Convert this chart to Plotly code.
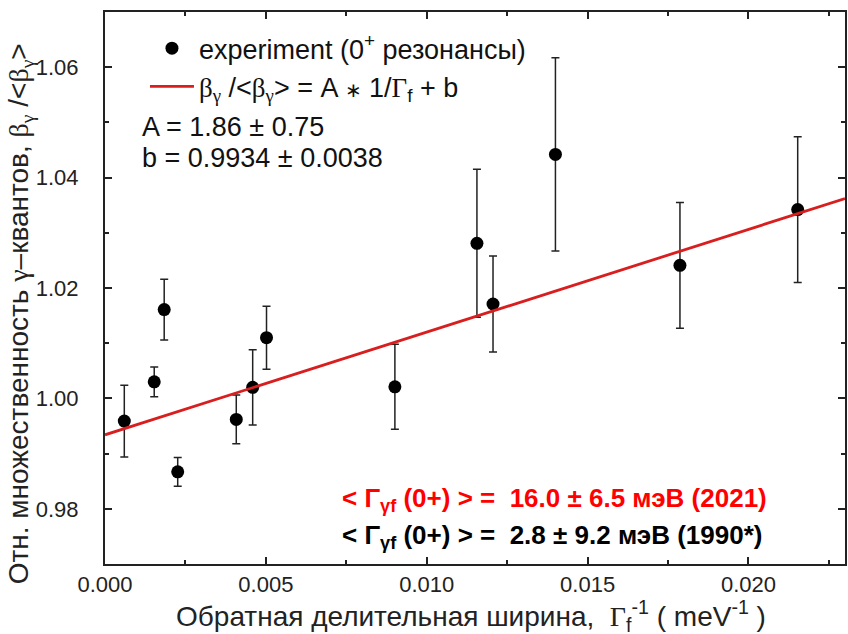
import plotly.graph_objects as go

# обратная делительная ширина, 1/Gamma_f (meV^-1)
inv_width = [0.0006, 0.00153, 0.00184, 0.00226, 0.00408, 0.00459, 0.00502,
             0.00901, 0.01156, 0.01206, 0.01400, 0.01787, 0.02153]
# относительная множественность beta_gamma / <beta_gamma>
rel_mult = [0.9959, 1.0030, 1.0161, 0.9867, 0.9962, 1.0020, 1.0110,
            1.0021, 1.0281, 1.0171, 1.0442, 1.0241, 1.0342]
rel_err = [0.0065, 0.0027, 0.0055, 0.0026, 0.0044, 0.0068, 0.0057,
           0.0077, 0.0134, 0.0087, 0.0175, 0.0114, 0.0132]

# линейный фит A * 1/Gamma_f + b
fit_x = [0.0, 0.023]
fit_y = [0.9934, 1.0362]

x_ticks = [0.0, 0.005, 0.010, 0.015, 0.020]
x_ticklabels = ["0.000", "0.005", "0.010", "0.015", "0.020"]
y_ticks = [0.98, 1.00, 1.02, 1.04, 1.06]
y_ticklabels = ["0.98", "1.00", "1.02", "1.04", "1.06"]

SANS = "Liberation Sans, Arial, sans-serif"
SERIF = "font-family:'Liberation Serif', 'DejaVu Serif', serif"


def serif(s):
    return "<span style=\"" + SERIF + "\">" + s + "</span>"


fig = go.Figure()
fig.add_trace(go.Scatter(
    x=inv_width, y=rel_mult,
    mode="markers",
    marker=dict(color="black", size=13, symbol="circle"),
    error_y=dict(type="data", array=rel_err, visible=True,
                 color="#222222", thickness=1.5, width=4),
    name="experiment (0<sup>+</sup> резонансы)",
))
fig.add_trace(go.Scatter(
    x=fit_x, y=fit_y,
    mode="lines",
    line=dict(color="#d81e1e", width=2.8),
    name=serif("β") + "<sub>" + serif("γ") + "</sub> /&lt;" + serif("β")
         + "<sub>" + serif("γ") + "</sub>&gt; = A <span style=\"font-size:20px\">∗</span> 1/"
         + serif("Γ") + "<sub>f</sub> + b",
))

axis_common = dict(
    showline=True, linecolor="#222222", linewidth=2, mirror="allticks",
    ticks="inside", ticklen=7, tickwidth=1.5, tickcolor="#222222",
    showgrid=False, zeroline=False,
    tickfont=dict(family=SANS, size=22, color="#222222"),
    minor=dict(ticks="inside", ticklen=4, tickwidth=1.5, tickcolor="#222222"),
)

fig.update_xaxes(
    range=[0, 0.023], tickvals=x_ticks, ticktext=x_ticklabels,
    minor_dtick=0.0025, minor_tick0=0,
    **axis_common,
)
fig.update_yaxes(
    range=[0.97, 1.07], tickvals=y_ticks, ticktext=y_ticklabels,
    minor_dtick=0.01, minor_tick0=0.97, ticklabelstandoff=20,
    **axis_common,
)

# подписи осей — аннотациями, чтобы точно поставить их как в оригинале
fig.add_annotation(x=0.4946, y=-0.094, xref="paper", yref="paper",
                   xanchor="center", yanchor="middle", showarrow=False,
                   text="Обратная делительная ширина,  " + serif("Γ")
                        + "<sub>f</sub><sup>-1</sup> ( meV<sup>-1</sup> )",
                   font=dict(family=SANS, size=28, color="#222222"))
fig.add_annotation(x=-0.113, y=0.453, xref="paper", yref="paper",
                   xanchor="center", yanchor="middle", showarrow=False, textangle=-90,
                   text="Отн. множественность " + serif("γ") + "–квантов, " + serif("β")
                        + "<sub>" + serif("γ") + "</sub> /&lt;" + serif("β") + "<sub>"
                        + serif("γ") + "</sub>&gt;",
                   font=dict(family=SANS, size=28, color="#222222"))

fig.add_annotation(x=0.047, y=0.792, xref="paper", yref="paper",
                   xanchor="left", yanchor="middle", showarrow=False,
                   text="A = 1.86 ± 0.75",
                   font=dict(family=SANS, size=27, color="#111111"))
fig.add_annotation(x=0.047, y=0.735, xref="paper", yref="paper",
                   xanchor="left", yanchor="middle", showarrow=False,
                   text="b = 0.9934 ± 0.0038",
                   font=dict(family=SANS, size=27, color="#111111"))
fig.add_annotation(x=0.317, y=0.116, xref="paper", yref="paper",
                   xanchor="left", yanchor="middle", showarrow=False,
                   text="<b>&lt; Γ<sub>γf</sub> (0+) &gt; =&nbsp; 16.0 ± 6.5 мэВ (2021)</b>",
                   font=dict(family=SANS, size=26, color="#ff0000"))
fig.add_annotation(x=0.317, y=0.049, xref="paper", yref="paper",
                   xanchor="left", yanchor="middle", showarrow=False,
                   text="<b>&lt; Γ<sub>γf</sub> (0+) &gt; =&nbsp; 2.8 ± 9.2 мэВ (1990*)</b>",
                   font=dict(family=SANS, size=26, color="#000000"))

fig.update_layout(
    width=848, height=634,
    margin=dict(l=105, r=1, t=12, b=70),
    paper_bgcolor="white", plot_bgcolor="white",
    showlegend=True,
    legend=dict(x=0.054, y=0.978, xanchor="left", yanchor="top",
                bgcolor="rgba(0,0,0,0)", borderwidth=0, itemwidth=44,
                font=dict(family=SANS, size=27, color="#111111"),
                tracegroupgap=2),
)

# убираем стандартный отступ body, чтобы фигура начиналась с (0, 0)
fig.write_html("out.html", config={"displayModeBar": False},
               post_script="document.body.style.margin='0';")
